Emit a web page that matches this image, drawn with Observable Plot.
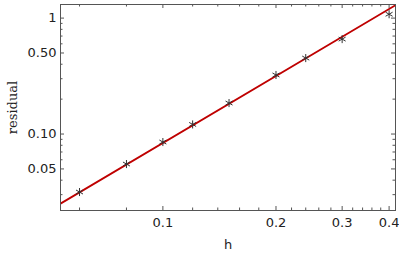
<!DOCTYPE html>
<html>
<head>
<meta charset="utf-8">
<script src="https://cdn.jsdelivr.net/npm/d3@7"></script>
<script src="https://cdn.jsdelivr.net/npm/@observablehq/plot@0.6"></script>
<style>
  html, body { margin: 0; padding: 0; background: #fff; }
  #chart svg { display: block; }
</style>
</head>
<body>
<div id="chart"></div>
<script>
// Data
const hValues   = [0.06, 0.08, 0.1, 0.12, 0.15, 0.2, 0.24, 0.3, 0.4];
const residuals = [0.0316, 0.0551, 0.0853, 0.121, 0.185, 0.323, 0.452, 0.659, 1.08];

// Fitted line end points
const fitH        = [0.0534, 0.416];
const fitResidual = [0.0251, 1.29];

// Axis domains
const xDomain = [0.0534, 0.416];
const yDomain = [0.0219, 1.31];

// Ticks
const xMajorTicks  = [0.1, 0.2, 0.3, 0.4];
const xTickLabels  = ["0.1", "0.2", "0.3", "0.4"];
const xMinorTicks  = [0.06, 0.08, 0.12, 0.14, 0.16, 0.18, 0.22, 0.24, 0.26, 0.28, 0.32, 0.34, 0.36, 0.38];
const yMajorTicks  = [0.05, 0.1, 0.5, 1];
const yTickLabels  = ["0.05", "0.10", "0.50", "1"];
const yMinorTicks  = [0.03, 0.04, 0.06, 0.07, 0.08, 0.09, 0.2, 0.3, 0.4, 0.6, 0.7, 0.8, 0.9];

const W = 399, H = 257;
const mL = 60, mR = 4, mT = 4, mB = 47;
const pw = W - mL - mR, ph = H - mT - mB;
const frameColor = "#555";
const major = 4, minor = 2.5;

const points = hValues.map((h, i) => ({h, r: residuals[i]}));
const fit = fitH.map((h, i) => ({h, r: fitResidual[i]}));

const xLab = new Map(xMajorTicks.map((t, i) => [t, xTickLabels[i]]));
const yLab = new Map(yMajorTicks.map((t, i) => [t, yTickLabels[i]]));

const chart = Plot.plot({
  width: W, height: H,
  marginLeft: mL, marginRight: mR, marginTop: mT, marginBottom: mB,
  style: {fontFamily: "DejaVu Sans", fontSize: "13px", background: "#fff", color: "#222"},
  x: {type: "log", domain: xDomain, axis: null},
  y: {type: "log", domain: yDomain, axis: null},
  marks: [
    // inward ticks, bottom & top
    Plot.tickX(xMajorTicks, {x: d => d, insetTop: ph - major, stroke: frameColor}),
    Plot.tickX(xMajorTicks, {x: d => d, insetBottom: ph - major, stroke: frameColor}),
    Plot.tickX(xMinorTicks, {x: d => d, insetTop: ph - minor, stroke: frameColor}),
    Plot.tickX(xMinorTicks, {x: d => d, insetBottom: ph - minor, stroke: frameColor}),
    // inward ticks, left & right
    Plot.tickY(yMajorTicks, {y: d => d, insetRight: pw - major, stroke: frameColor}),
    Plot.tickY(yMajorTicks, {y: d => d, insetLeft: pw - major, stroke: frameColor}),
    Plot.tickY(yMinorTicks, {y: d => d, insetRight: pw - minor, stroke: frameColor}),
    Plot.tickY(yMinorTicks, {y: d => d, insetLeft: pw - minor, stroke: frameColor}),
    // tick labels
    Plot.axisX({ticks: xMajorTicks, tickSize: 0, tickPadding: 7, tickFormat: d => xLab.get(d), label: null, fill: "#222"}),
    Plot.axisY({ticks: yMajorTicks, tickSize: 0, tickPadding: 4, tickFormat: d => yLab.get(d), label: null, fill: "#222"}),
    // fitted line
    Plot.line(fit, {x: "h", y: "r", stroke: "#bf0000", strokeWidth: 1.8, clip: true}),
    // data points
    Plot.dot(points, {x: "h", y: "r", symbol: "asterisk", r: 3.8, stroke: "#333", strokeWidth: 1}),
    Plot.frame({stroke: frameColor, strokeWidth: 1}),
    // axis titles
    Plot.text(["h"], {frameAnchor: "bottom", dy: 34, lineAnchor: "middle", text: d => d, fontSize: 13, fill: "#222"}),
    Plot.text(["residual"], {frameAnchor: "left", dx: -48, rotate: -90, textAnchor: "middle", lineAnchor: "middle", text: d => d,
      fontFamily: "DejaVu Serif", fontSize: 13, fill: "#222"})
  ]
});
document.getElementById("chart").appendChild(chart);
</script>
</body>
</html>
